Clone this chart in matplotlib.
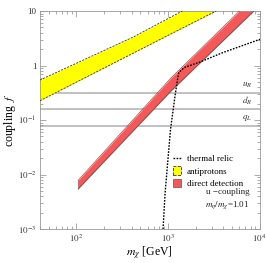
import numpy as np
import matplotlib
matplotlib.use("Agg")
import matplotlib.pyplot as plt
from matplotlib.lines import Line2D
from matplotlib.patches import Patch

plt.rcParams['font.family'] = ['Liberation Serif', 'DejaVu Serif']
plt.rcParams['mathtext.fontset'] = 'stix'

# antiprotons band
m_pbar_up = [40, 423, 1430]
f_pbar_up = [0.542, 3.37, 10.0]
m_pbar_lo = [40, 1075, 3350]
f_pbar_lo = [0.226, 3.8, 10.0]

# direct detection band
m_dd = [105, 1075, 8900]
f_dd_up = [0.0079, 0.59, 19.0]
f_dd_lo = [0.0055, 0.34, 10.5]

# thermal relic curve
m_relic = [883, 929, 1064, 1197, 1270, 1312, 1500, 2280, 3776, 10250]
f_relic = [0.001, 0.0045, 0.066, 0.288, 0.548, 0.745, 0.918, 1.175, 1.675, 3.06]

# couplings (horizontal lines)
hline_vals = [0.32, 0.158, 0.079]
hline_labels = ['$u_R$', '$d_R$', '$q_L$']

fig = plt.figure(figsize=(2.66, 2.63), dpi=100)
ax = fig.add_axes([0.150, 0.129, 0.826, 0.829])

grey = '#b0b0b0'
for v in hline_vals:
    ax.axhline(v, color=grey, lw=1.1, zorder=1)
for v, lab in zip(hline_vals, hline_labels):
    ax.text(8300, v * 1.12, lab, fontsize=6.5, ha='right', va='bottom', color='#333333')

# antiprotons
mm = np.logspace(np.log10(40), np.log10(3350), 200)
up = np.interp(np.log10(mm), np.log10(m_pbar_up), np.log10(f_pbar_up), right=1.5)
lo = np.interp(np.log10(mm), np.log10(m_pbar_lo), np.log10(f_pbar_lo))
ax.fill_between(mm, 10**lo, 10**up, color='#ffff00', lw=0, zorder=2)
ax.plot(m_pbar_up, f_pbar_up, color='#333333', ls=(0, (2.5, 1.5)), lw=0.6, zorder=3)
ax.plot(m_pbar_lo, f_pbar_lo, color='#333333', ls=(0, (2.5, 1.5)), lw=0.6, zorder=3)

# direct detection
red = '#f45858'
ax.fill_between(m_dd, f_dd_lo, f_dd_up, color=red, lw=0, zorder=2)
ax.plot(m_dd, f_dd_up, color='#6a4a4a', lw=0.45, zorder=3)
ax.plot(m_dd, f_dd_lo, color='#6a4a4a', lw=0.45, zorder=3)
ax.plot([m_dd[0], m_dd[0]], [f_dd_lo[0], f_dd_up[0]], color='#6a4a4a', lw=0.45, zorder=3)

# thermal relic
ax.plot(m_relic, f_relic, color='black', ls=(0, (1.2, 1.0)), lw=1.0, zorder=4)

ax.set_xscale('log')
ax.set_yscale('log')
ax.set_xlim(40, 1e4)
ax.set_ylim(1e-3, 10)
ax.set_yticks([1e-3, 1e-2, 1e-1, 1, 10])
ax.set_yticklabels(['$10^{-3}$', '$10^{-2}$', '$10^{-1}$', '1', '10'])
ax.set_xticks([1e2, 1e3, 1e4])
ax.set_xticklabels(['$10^{2}$', '$10^{3}$', '$10^{4}$'])
ax.tick_params(which='both', direction='in', top=True, right=True,
               labelsize=6.5, colors='#888888', labelcolor='#333333', width=0.5)
ax.tick_params(which='major', length=4, pad=2.5)
ax.tick_params(which='minor', length=2)
for s in ax.spines.values():
    s.set_color('#999999')
    s.set_linewidth(0.6)

ax.set_xlabel(r'$m_\chi$ [GeV]', fontsize=8.5, labelpad=1)
ax.set_ylabel(r'coupling  $f$', fontsize=8.5, labelpad=0)

handles = [Line2D([], [], color='black', ls=(0, (1.2, 1.0)), lw=1.0),
           Patch(facecolor='#ffff00', edgecolor='#333333', ls='--', lw=0.6),
           Patch(facecolor=red, edgecolor='#6a4a4a', lw=0.5)]
ax.legend(handles, ['thermal relic', 'antiprotons', 'direct detection'],
          loc='upper left', bbox_to_anchor=(0.59, 0.36), frameon=False,
          fontsize=6.5, handlelength=0.9, handleheight=1.0, handletextpad=0.6,
          labelspacing=0.35, borderaxespad=0)

ax.text(0.955, 0.085, 'u \u2212coupling\n$m_\\eta/m_\\chi$=1.01', transform=ax.transAxes,
        fontsize=6.5, ha='right', va='bottom', linespacing=1.3, color='#222222')

fig.savefig('out.png', dpi=100)
